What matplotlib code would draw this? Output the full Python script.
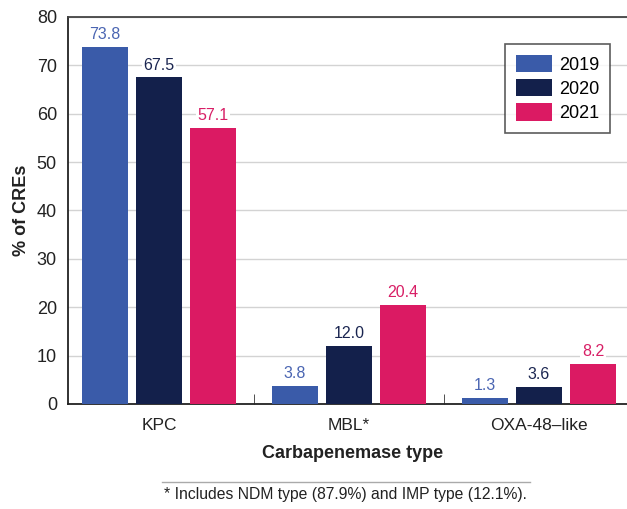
import matplotlib.pyplot as plt
import numpy as np

plt.rcParams['font.family'] = ['Liberation Sans', 'DejaVu Sans']

categories = ['KPC', 'MBL*', 'OXA-48\u2013like']
years = ['2019', '2020', '2021']
values = {
    '2019': [73.8, 3.8, 1.3],
    '2020': [67.5, 12.0, 3.6],
    '2021': [57.1, 20.4, 8.2],
}
bar_colors = ['#3A5BA9', '#13204B', '#DB1A63']
label_colors = ['#4A65B2', '#1A2550', '#D81F66']
footnote = '* Includes NDM type (87.9%) and IMP type (12.1%).'

fig = plt.figure(figsize=(6.27, 5.09), dpi=100)
ax = fig.add_axes([68 / 627, 1 - 404 / 509, 570 / 627, 387 / 509])

x = np.arange(len(categories))
width = 0.242
step = 0.284
for i, yr in enumerate(years):
    pos = x + (i - 1) * step
    ax.bar(pos, values[yr], width, color=bar_colors[i], label=yr, zorder=3)
    for p, v in zip(pos, values[yr]):
        ax.text(p, v + 1.0, f'{v:.1f}', ha='center', va='bottom', fontsize=11.5,
                color=label_colors[i], zorder=4,
                bbox=dict(facecolor='white', edgecolor='none', pad=1))

ax.set_xlim(-0.479, 2.521)
ax.set_ylim(0, 80)
ax.set_yticks(range(0, 81, 10))
ax.yaxis.grid(True, color='#D3D3D3', linewidth=1, zorder=0)
ax.set_axisbelow(True)
ax.tick_params(axis='y', length=0, labelsize=13, colors='#222222', pad=8)

ax.set_xticks(x)
ax.set_xticklabels(categories, fontsize=12.5, color='#222222')
ax.tick_params(axis='x', length=0, pad=10)
ax.set_xticks([0.5, 1.5], minor=True)
ax.tick_params(axis='x', which='minor', direction='in', length=7, color='#333333')

for s in ['left', 'bottom']:
    ax.spines[s].set_color('#222222')
    ax.spines[s].set_linewidth(1.3)
ax.spines['top'].set_color('#444444')
ax.spines['top'].set_linewidth(1.3)
ax.spines['right'].set_visible(False)

ax.set_ylabel('% of CREs', fontsize=13, fontweight='bold', color='#222222', labelpad=5)
ax.set_xlabel('Carbapenemase type', fontsize=13, fontweight='bold', color='#222222', labelpad=9)

leg = ax.legend(loc='upper left', bbox_to_anchor=(437 / 570, 1 - 27 / 387), fontsize=13,
                frameon=True, fancybox=False, edgecolor='#333333',
                handlelength=2.0, handleheight=1.1, labelspacing=0.3,
                borderpad=0.6, handletextpad=0.4, borderaxespad=0)
leg.get_frame().set_linewidth(1.2)

fig.add_artist(plt.Line2D([162 / 627, 530 / 627], [1 - 482 / 509] * 2,
                          color='#AAAAAA', linewidth=1))
fig.text(345 / 627, 1 - 495 / 509, footnote, ha='center', va='center', fontsize=11.3,
         color='#222222')

fig.savefig('out.png', dpi=100)
